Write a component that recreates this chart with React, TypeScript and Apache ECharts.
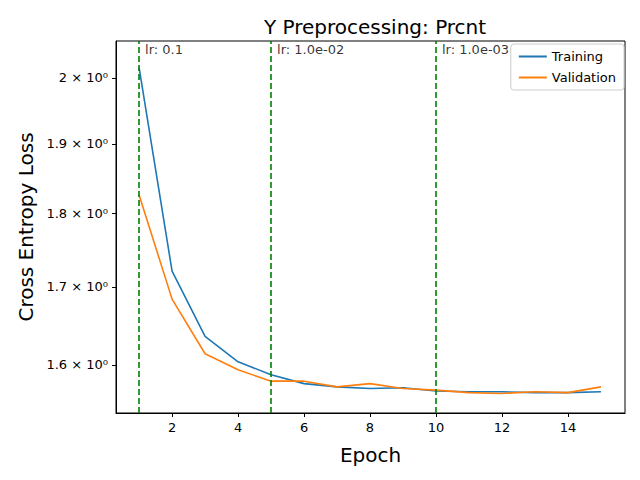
import { useRef, useEffect } from "react";
import * as echarts from "echarts";

const epochs = [1, 2, 3, 4, 5, 6, 7, 8, 9, 10, 11, 12, 13, 14, 15];
const training = [2.016, 1.721, 1.636, 1.604, 1.588, 1.577, 1.573, 1.571, 1.572, 1.568, 1.567, 1.567, 1.566, 1.566, 1.567];
const validation = [1.826, 1.684, 1.614, 1.594, 1.58, 1.58, 1.573, 1.577, 1.571, 1.569, 1.566, 1.565, 1.567, 1.566, 1.573];
const lrEpochs = [1, 5, 10];
const lrLabels = ["lr: 0.1", "lr: 1.0e-02", "lr: 1.0e-03"];
const yTicks = [1.6, 1.7, 1.8, 1.9, 2];
const yTickLabels = ["1.6 × 10⁰", "1.7 × 10⁰", "1.8 × 10⁰", "1.9 × 10⁰", "2 × 10⁰"];
const xTicks = [2, 4, 6, 8, 10, 12, 14];

const Y_MIN = 1.5414;
const Y_MAX = 2.058;

export default function App() {
  const ref = useRef<HTMLDivElement>(null);

  useEffect(() => {
    if (!ref.current) return;
    document.body.style.margin = "0";
    const chart = echarts.init(ref.current, null, { renderer: "svg" });
    const font = "DejaVu Sans";
    const yLo = Math.log(Y_MIN);
    const yHi = Math.log(Y_MAX);
    const tickLn = yTicks.map((v) => Math.log(v));

    chart.setOption({
      animation: false,
      textStyle: { fontFamily: font },
      title: {
        text: "Y Preprocessing: Prcnt",
        left: 370,
        top: 12,
        textAlign: "center",
        textStyle: { fontSize: 20, fontWeight: "normal", color: "#000", fontFamily: font },
      },
      grid: { left: 116, right: 15, top: 41, bottom: 67, show: true, borderColor: "#000", borderWidth: 1 },
      legend: {
        right: 16,
        top: 44,
        orient: "vertical",
        itemWidth: 28,
        itemHeight: 2,
        itemGap: 8,
        padding: [6, 8],
        borderColor: "#ccc",
        borderWidth: 1,
        borderRadius: 3,
        backgroundColor: "rgba(255,255,255,0.8)",
        textStyle: { fontSize: 13, color: "#000" },
        data: [
          { name: "Training", icon: "rect" },
          { name: "Validation", icon: "rect" },
        ],
      },
      xAxis: {
        type: "value",
        min: 0.3,
        max: 15.73,
        name: "Epoch",
        nameLocation: "middle",
        nameGap: 32,
        nameTextStyle: { fontSize: 20, color: "#000" },
        splitLine: { show: false },
        axisLine: { lineStyle: { color: "#000" } },
        axisTick: { customValues: xTicks, length: 4, lineStyle: { color: "#000" } },
        axisLabel: { customValues: xTicks, fontSize: 13, color: "#000" },
      },
      yAxis: {
        type: "value",
        min: yLo,
        max: yHi,
        name: "Cross Entropy Loss",
        nameLocation: "middle",
        nameGap: 80,
        nameTextStyle: { fontSize: 20, color: "#000" },
        splitLine: { show: false },
        axisLine: { show: true, lineStyle: { color: "#000" } },
        axisTick: { customValues: tickLn, length: 4, lineStyle: { color: "#000" } },
        axisLabel: {
          customValues: tickLn,
          fontSize: 13,
          color: "#000",
          formatter: (v: number) => {
            const i = tickLn.findIndex((t) => Math.abs(t - v) < 1e-6);
            return i >= 0 ? yTickLabels[i] : "";
          },
        },
      },
      series: [
        {
          name: "Training",
          type: "line",
          showSymbol: false,
          symbol: "none",
          color: "#1f77b4",
          lineStyle: { width: 1.6 },
          data: epochs.map((e, i) => [e, Math.log(training[i])]),
          markLine: {
            silent: true,
            symbol: "none",
            label: { show: false },
            lineStyle: { color: "#008000", type: [6, 3], width: 1.6 },
            data: lrEpochs.map((e) => ({ xAxis: e })),
          },
        },
        {
          name: "Validation",
          type: "line",
          showSymbol: false,
          symbol: "none",
          color: "#ff7f0e",
          lineStyle: { width: 1.6 },
          data: epochs.map((e, i) => [e, Math.log(validation[i])]),
        },
        {
          type: "scatter",
          symbolSize: 0,
          silent: true,
          data: lrEpochs.map((e, i) => ({ value: [e, yHi], name: lrLabels[i] })),
          label: {
            show: true,
            position: [6, 2],
            align: "left",
            verticalAlign: "top",
            fontSize: 13,
            color: "#000",
            formatter: (p: any) => p.name,
          },
        },
      ],
    });
    return () => chart.dispose();
  }, []);

  return <div ref={ref} style={{ width: 640, height: 480 }} />;
}
